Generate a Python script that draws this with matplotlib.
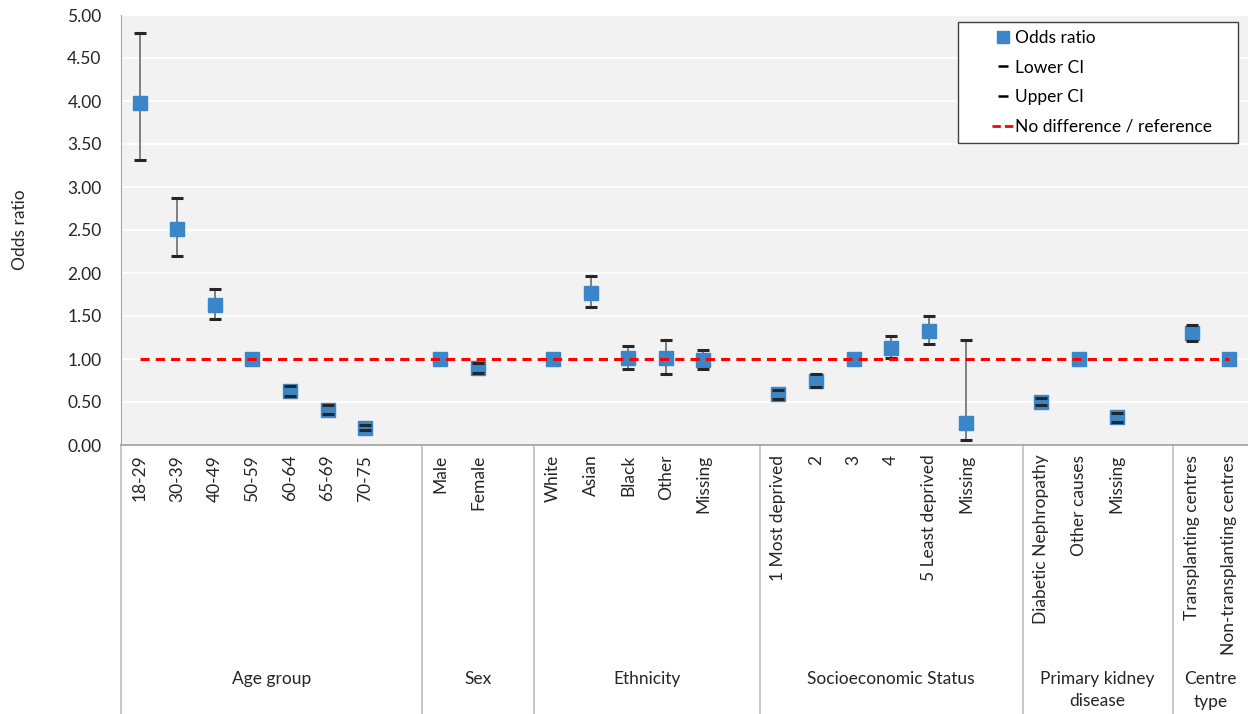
import numpy as np
import matplotlib
matplotlib.use("Agg")
import matplotlib.pyplot as plt
import matplotlib.transforms as mtransforms
from matplotlib.lines import Line2D
from matplotlib.patches import Rectangle

plt.rcParams.update({"font.family": ["Lato", "DejaVu Sans"], "font.size": 12.5})

# ---------- data ----------
groups = ["Age group", "Sex", "Ethnicity", "Socioeconomic Status",
          "Primary kidney\ndisease", "Centre\ntype"]
group_cats = [
    ["18-29", "30-39", "40-49", "50-59", "60-64", "65-69", "70-75"],
    ["Male", "Female"],
    ["White", "Asian", "Black", "Other", "Missing"],
    ["1 Most deprived", "2", "3", "4", "5 Least deprived", "Missing"],
    ["Diabetic Nephropathy", "Other causes", "Missing"],
    ["Transplanting centres", "Non-transplanting centres"],
]
odds = [3.98, 2.51, 1.63, 1.00, 0.63, 0.41, 0.20,
        1.00, 0.89,
        1.00, 1.77, 1.01, 1.01, 0.99,
        0.59, 0.74, 1.00, 1.13, 1.33, 0.26,
        0.50, 1.00, 0.32,
        1.30, 1.00]
# reference categories have no confidence interval (nan)
nan = np.nan
lower = [3.31, 2.20, 1.46, nan, 0.57, 0.36, 0.17,
         nan, 0.84,
         nan, 1.60, 0.88, 0.83, 0.88,
         0.54, 0.67, nan, 1.01, 1.17, 0.06,
         0.46, nan, 0.27,
         1.21, nan]
upper = [4.79, 2.87, 1.81, nan, 0.69, 0.46, 0.23,
         nan, 0.95,
         nan, 1.97, 1.15, 1.22, 1.11,
         0.64, 0.82, nan, 1.27, 1.50, 1.22,
         0.55, nan, 0.37,
         1.39, nan]
reference = 1.0

# ---------- layout of category slots (one blank slot after each group) ----------
xs, labels, seps, centres = [], [], [], []
pos = 0
for gi, cats in enumerate(group_cats):
    start = pos
    for c in cats:
        xs.append(pos); labels.append(c); pos += 1
    if gi < len(group_cats) - 1:
        pos += 1  # blank slot
        seps.append(pos - 0.5)
    centres.append((start - 0.5 + pos - 0.5) / 2)
n_slots = pos
xs = np.array(xs); odds = np.array(odds)
lower = np.array(lower); upper = np.array(upper)

W, H = 1248, 714
TXT = "#262626"
fig = plt.figure(figsize=(W / 100, H / 100), dpi=100)
ax = fig.add_axes([121 / W, 1 - 445 / H, (1248 - 121) / W, 430 / H])
ax.set_facecolor("#F2F2F2")

ci = ~np.isnan(lower)
ax.vlines(xs[ci], lower[ci], upper[ci], color="#7F7F7F", lw=1.4, zorder=3)
ax.plot(xs, odds, ls="none", marker="s", ms=10.5, color="#3A86C8", zorder=4)
# caps drawn over the squares
ax.plot(xs, lower, ls="none", marker="_", ms=9, mew=2.2, color=TXT, zorder=5)
ax.plot(xs, upper, ls="none", marker="_", ms=9, mew=2.2, color=TXT, zorder=5)
ax.plot([xs[0], xs[-1]], [reference, reference], color="#FF0000", ls=(0, (3, 2)),
        lw=2.2, zorder=6)

ax.set_xlim(-0.5, n_slots - 0.5)
ax.set_ylim(0, 5)
ax.set_yticks(np.arange(0, 5.01, 0.5))
ax.set_yticklabels([f"{v:.2f}" for v in np.arange(0, 5.01, 0.5)], color=TXT)
ax.yaxis.grid(True, color="white", lw=1.3)
ax.set_axisbelow(True)
ax.tick_params(axis="y", length=0, pad=14)
ax.set_ylabel("Odds ratio", labelpad=28, color=TXT)

ax.set_xticks(xs)
ax.set_xticklabels(labels, rotation=90, va="top", color=TXT)
ax.tick_params(axis="x", length=0, pad=7)

for s in ["top", "right"]:
    ax.spines[s].set_visible(False)
ax.spines["left"].set_color("#A6A6A6")
ax.spines["bottom"].set_color("#A6A6A6")
ax.spines["bottom"].set_linewidth(1.3)

trans = mtransforms.blended_transform_factory(ax.transData, ax.transAxes)
bottom = -(H - 445) / 430
for s in [-0.5] + seps:
    ax.add_line(Line2D([s, s], [0, bottom], transform=trans, color="#BFBFBF",
                       lw=1.2, clip_on=False))
for c, g in zip(centres, groups):
    ax.text(c, -(671 - 445) / 430, g, transform=trans, ha="center",
            va="top", color=TXT, linespacing=1.5)

# legend with a hand-placed frame
def ax_frac(px, py):
    return (px - 121) / 1127, (445 - py) / 430

x0, y0 = ax_frac(958, 143)
x1, y1 = ax_frac(1238, 22)
ax.add_patch(Rectangle((x0, y0), x1 - x0, y1 - y0, transform=ax.transAxes,
                       facecolor="white", edgecolor="#404040", lw=1.0, zorder=7))
handles = [
    Line2D([], [], ls="none", marker="s", ms=9, color="#3A86C8"),
    Line2D([], [], ls="none", marker="_", ms=7, mew=1.8, color="black"),
    Line2D([], [], ls="none", marker="_", ms=7, mew=1.8, color="black"),
    Line2D([], [], color="#FF0000", ls=(0, (3, 1.5)), lw=2),
]
leg = ax.legend(handles, ["Odds ratio", "Lower CI", "Upper CI", "No difference / reference"],
                loc="upper left", bbox_to_anchor=ax_frac(992, 30), frameon=False,
                handlelength=1.25, handletextpad=0.1, labelspacing=0.78,
                borderpad=0, borderaxespad=0)
leg.set_zorder(8)

fig.savefig("out.png", dpi=100, facecolor="white")
